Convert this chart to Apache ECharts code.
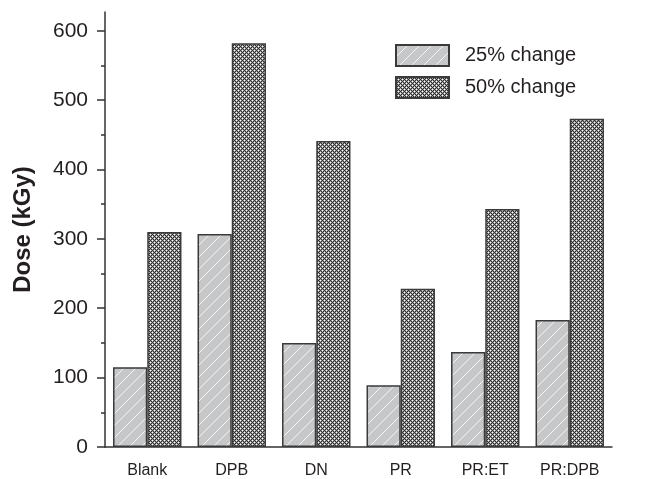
<!DOCTYPE html>
<html>
<head>
<meta charset="utf-8">
<script src="https://cdn.jsdelivr.net/npm/echarts@6/dist/echarts.min.js"></script>
<style>
html,body{margin:0;padding:0;background:#fff;}
#chart{width:648px;height:479px;}
</style>
</head>
<body>
<div id="chart"></div>
<script>
const categories = ['Blank', 'DPB', 'DN', 'PR', 'PR:ET', 'PR:DPB'];
const change25 = [115, 307, 150, 89, 137, 183];
const change50 = [310, 582, 441, 228, 343, 473];
const yTickValues = [0, 100, 200, 300, 400, 500, 600];
const yMinorTickValues = [50, 150, 250, 350, 450, 550];
const seriesNames = ['25% change', '50% change'];

function stripePattern() {
  const c = document.createElement('canvas');
  c.width = 12; c.height = 12;
  const g = c.getContext('2d');
  g.fillStyle = '#c6c7c9';
  g.fillRect(0, 0, 12, 12);
  g.strokeStyle = '#f4f4f4';
  g.lineWidth = 1;
  g.beginPath();
  g.moveTo(-1, 13); g.lineTo(13, -1);
  g.moveTo(-7, 7); g.lineTo(7, -7);
  g.moveTo(5, 19); g.lineTo(19, 5);
  g.stroke();
  return c;
}
function crossPattern() {
  const c = document.createElement('canvas');
  c.width = 4; c.height = 4;
  const g = c.getContext('2d');
  for (let x = 0; x < 4; x++) {
    for (let y = 0; y < 4; y++) {
      let col;
      if ((x + y) % 4 === 2 || ((x - y) % 4 + 4) % 4 === 2) col = '#2c2c2c';
      else if ((x === 0 && y === 0) || (x === 2 && y === 2)) col = '#ffffff';
      else col = '#a0a0a0';
      g.fillStyle = col;
      g.fillRect(x, y, 1, 1);
    }
  }
  return c;
}

const chart = echarts.init(document.getElementById('chart'), null, {renderer: 'canvas'});
const txt = '#231f20';
const axisCol = '#333333';
chart.setOption({
  animation: false,
  backgroundColor: '#ffffff',
  textStyle: {fontFamily: 'Liberation Sans, Arial, sans-serif'},
  legend: {
    orient: 'vertical',
    left: 390, top: 39,
    itemWidth: 53, itemHeight: 21, itemGap: 9,
    icon: 'rect',
    textStyle: {fontSize: 20, color: txt, padding: [0, 0, 0, 11]},
    data: seriesNames
  },
  grid: {left: 105, right: 36, top: 12, bottom: 32},
  xAxis: [{
    type: 'category', data: categories,
    axisLine: {lineStyle: {color: axisCol, width: 1.5}},
    axisTick: {alignWithLabel: true, length: 8, lineStyle: {color: axisCol, width: 1.5}},
    axisLabel: {fontSize: 16, color: txt, margin: 16},
  }, {
    type: 'category', data: categories, position: 'bottom',
    axisLine: {show: false},
    axisTick: {length: 5, lineStyle: {color: axisCol, width: 1.5}},
    axisLabel: {show: false}
  }],
  yAxis: [{
    type: 'value', min: 0, max: 627,
    name: 'Dose (kGy)', nameLocation: 'middle', nameGap: 70,
    nameTextStyle: {fontSize: 24, fontWeight: 'bold', color: txt},
    axisLine: {show: true, lineStyle: {color: axisCol, width: 1.5}},
    axisTick: {show: true, length: 8, customValues: yTickValues, lineStyle: {color: axisCol, width: 1.5}},
    axisLabel: {fontSize: 21, color: txt, margin: 17, customValues: yTickValues},
    splitLine: {show: false}
  }, {
    type: 'value', min: 0, max: 627, position: 'left',
    axisLine: {show: false},
    axisTick: {show: true, length: 4, customValues: yMinorTickValues, lineStyle: {color: axisCol, width: 1.5}},
    axisLabel: {show: false},
    splitLine: {show: false}
  }],
  series: [{
    name: seriesNames[0], type: 'bar', data: change25,
    barGap: '0%', barCategoryGap: '19%',
    itemStyle: {color: {image: stripePattern(), repeat: 'repeat'}, borderColor: '#3a3a3a', borderWidth: 1.5}
  }, {
    name: seriesNames[1], type: 'bar', data: change50,
    barGap: '0%', barCategoryGap: '19%',
    itemStyle: {color: {image: crossPattern(), repeat: 'repeat'}, borderColor: '#3a3a3a', borderWidth: 1.5}
  }]
});
</script>
</body>
</html>
